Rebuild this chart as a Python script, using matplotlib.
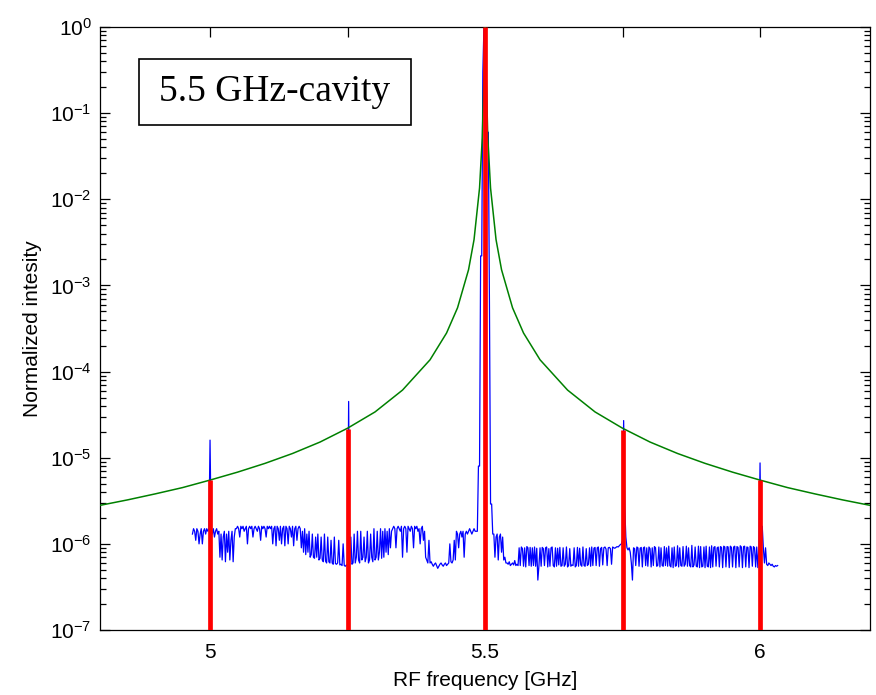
import numpy as np
import matplotlib
matplotlib.use('Agg')
import matplotlib.pyplot as plt
from matplotlib.patches import Rectangle
from matplotlib.ticker import LogLocator, NullFormatter, FixedLocator, FixedFormatter

plt.rcParams['font.family'] = ['Liberation Sans', 'DejaVu Sans']
plt.rcParams['mathtext.fontset'] = 'custom'
plt.rcParams['mathtext.rm'] = 'Liberation Sans'
plt.rcParams['mathtext.it'] = 'Liberation Sans:italic'

# cavity transmission (green)
green_freq = [4.80, 4.85, 4.90, 4.95, 5.00, 5.05, 5.10, 5.15, 5.20, 5.25, 5.30, 5.35,
              5.40, 5.43, 5.45, 5.47, 5.48, 5.49, 5.495, 5.4985, 5.50, 5.5015, 5.505,
              5.51, 5.52, 5.53, 5.55, 5.57, 5.60, 5.65, 5.70, 5.75, 5.80, 5.85, 5.90,
              5.95, 6.00, 6.05, 6.10, 6.15, 6.20]
green_vals = [2.8e-6, 3.24e-6, 3.8e-6, 4.5e-6, 5.5e-6, 6.8e-6, 8.6e-6, 1.12e-5, 1.52e-5,
              2.2e-5, 3.4e-5, 6.1e-5, 1.37e-4, 2.8e-4, 5.5e-4, 1.52e-3, 3.4e-3, 1.35e-2,
              5.2e-2, 0.38, 1.0, 0.38, 5.2e-2, 1.35e-2, 3.4e-3, 1.52e-3, 5.5e-4, 2.8e-4,
              1.37e-4, 6.1e-5, 3.4e-5, 2.2e-5, 1.52e-5, 1.12e-5, 8.6e-6, 6.8e-6, 5.5e-6,
              4.5e-6, 3.8e-6, 3.24e-6, 2.8e-6]

# comb lines (red)
red_freq = [5.0, 5.25, 5.5, 5.75, 6.0]
red_vals = [5.5e-6, 2.15e-5, 1.0, 2.1e-5, 5.5e-6]

# measured spectrum (blue), sampled every 2 MHz from 4.968 GHz, values in units of 1e-7
blue_f0 = 4.968
blue_df = 0.002
blue_vals = [
    # 4.968 - 4.998
    13, 15, 14, 11, 15, 14, 10, 13, 15, 10, 14, 15, 13, 15, 14, 15,
    # 5.000 spike
    160,
    15, 13, 15, 12, 14, 15, 13,
    14, 7, 13, 6.5, 12, 14, 6.2, 13, 8, 14, 6.5, 11, 14, 6.2, 12, 15,
    # 5.048 - 5.110
    15, 16, 15, 12, 16, 15, 16, 14, 15, 16, 10, 15, 16, 15, 16, 12,
    15, 16, 15, 14, 16, 15, 11, 16, 15, 16, 15, 12, 16, 15, 16, 15,
    # 5.112 - 5.162
    16, 10, 15, 16, 9.5, 16, 15, 11, 16, 10, 15, 16, 9.5, 16, 15, 10,
    16, 15, 12, 16, 9.5, 15, 16, 11, 15, 16,
    # 5.164 - 5.250
    15, 9, 14, 8, 15, 7.5, 13, 8, 14, 7,
    7.5, 13, 7, 6.8, 12, 7, 13, 6.5, 6.8, 12,
    6.5, 6.2, 13, 6.3, 6, 12, 6.2, 6, 11, 6,
    5.8, 12, 5.9, 5.8, 6, 11, 5.7, 5.8, 5.6, 10,
    5.6, 5.5, 5.7, 5.5,
    # 5.252 spike
    450,
    # 5.254 - 5.330
    6, 12, 5.8, 6, 13, 6, 7, 14, 6.5, 6,
    14, 6.5, 7, 12, 6.2, 7, 14, 6, 6.5, 13,
    7, 6.2, 15, 6.5, 7, 14, 6.5, 8, 15, 6.8,
    14, 7, 15, 8, 14, 7.5, 15, 9, 14,
    # 5.332 - 5.390
    15, 16, 15, 9, 15, 16, 15, 14, 16, 7,
    15, 16, 15, 8, 16, 15, 14, 16, 15, 9,
    16, 15, 16, 14, 15, 10, 15, 16, 11, 14,
    # 5.392 - 5.446
    7, 6.5, 6, 11, 6, 6.2, 5.8, 5.5, 5.8, 6,
    5.6, 5.2, 5.5, 5.8, 6, 5.7, 5.5, 5.8, 6, 5.6,
    5.8, 6, 10, 6.2, 6, 6.5, 11, 6.5,
    # 5.448 - 5.482
    14, 13, 9, 13, 14, 12, 14, 7, 13, 14, 13, 14, 15, 14, 13, 14, 15, 14,
    # 5.484 - 5.514 main peak
    14, 14, 80, 80, 22000, 22000, 3e6, 1e7, 1e7, 3e6, 6e5, 6e5, 6300, 29, 29, 13,
    # 5.516 - 5.560
    13, 7, 12, 13, 6.5, 12, 13, 8, 12, 6.5, 7, 6,
    6, 5.8, 6.2, 5.6, 5.8, 6, 5.7, 6.4, 5.6, 5.8, 5.6,
    # 5.562 - 5.750
    9, 5.6, 9.2, 8.8, 5.5, 9, 5.4, 9.3, 9, 5.6,
    9.1, 5.5, 9, 5.6, 9.2, 5.5, 8.9, 3.8, 5.6, 9,
    5.5, 9.1, 8.8, 5.6, 9, 9.2, 5.4, 8.8, 5.5, 9,
    9.2, 5.6, 5.4, 9, 5.5, 8.9, 5.7, 9.1, 5.5, 5.6,
    9, 5.5, 5.8, 9.2, 5.4, 5.6, 8.8, 5.5, 5.7, 5.6,
    9, 5.4, 5.6, 9.1, 5.5, 8.9, 5.7, 5.5, 9.2, 5.6,
    5.5, 8.8, 5.6, 5.8, 9, 5.5, 9.2, 5.6, 8.9, 9.1,
    5.6, 9, 9.2, 5.5, 8.8, 9.1, 5.7, 9, 9.2, 8.7,
    5.6, 9, 9.1, 8.8, 5.8, 9.2, 9, 8.9, 9.1, 9.3,
    9.2, 9.5, 9.8, 10, 11,
    # 5.752 spike
    270,
    27, 12, 9, 8.5, 9, 8, 6, 3.8,
    # 5.770 - 5.998
    9, 8.8, 5.6, 9.2, 9, 5.5, 8.9, 9.1, 5.4, 9,
    9.2, 5.6, 9, 5.5, 9.2, 8.8, 5.4, 9, 5.6, 9.3,
    9, 5.5, 5.6, 9.2, 5.4, 9, 5.6, 5.5, 9.3, 5.6,
    9, 5.5, 9.4, 5.6, 5.4, 9, 5.3, 9.2, 5.5, 5.6,
    9.5, 5.4, 9, 5.6, 5.5, 9.3, 5.5, 5.8, 9.4, 5.5,
    9, 5.6, 5.4, 9.6, 5.4, 5.7, 9.2, 5.5, 5.4, 9.4,
    5.3, 9.3, 5.4, 5.5, 9.2, 5.3, 9.4, 5.5, 5.4, 9.2,
    5.3, 9.5, 5.4, 9.1, 9.3, 5.5, 9, 9.2, 5.4, 9.3,
    9.1, 5.3, 9.4, 9.2, 5.4, 9.3, 9.2, 5.3, 9.4, 9.1,
    5.4, 9.2, 9.4, 5.3, 9.3, 9.1, 5.4, 9.5, 9.2, 5.3,
    9.3, 9.4, 5.4, 9.2, 9.1, 5.3, 9.4, 9.2, 5.5, 9.3,
    9, 5.4, 9.2, 5.3, 9.1,
    # 6.000 spike
    87,
    8, 16, 9, 6, 9, 5.8, 5.6, 6, 5.8, 5.6, 5.8, 5.5, 5.4, 5.6, 5.5, 5.6,
]

xtick_pos = [5.0, 5.25, 5.5, 5.75, 6.0]
xtick_lab = ['5', '', '5.5', '', '6']

blue_freq = blue_f0 + blue_df * np.arange(len(blue_vals))
blue_y = np.array(blue_vals) * 1e-7

fig = plt.figure(figsize=(8.76, 6.95), dpi=100)
ax = fig.add_axes([0.1142, 0.0935, 0.879, 0.8677])

ax.plot(blue_freq, blue_y, color='#0000ff', lw=0.9, zorder=2)
ax.plot(green_freq, green_vals, color='#008000', lw=1.1, zorder=3)
ax.vlines(red_freq, 1e-7, red_vals, color='#ff0000', lw=3.4, zorder=4)

ax.set_yscale('log')
ax.set_xlim(4.8, 6.2)
ax.set_ylim(1e-7, 1e0)

ax.xaxis.set_major_locator(FixedLocator(xtick_pos))
ax.xaxis.set_major_formatter(FixedFormatter(xtick_lab))
ax.yaxis.set_major_locator(LogLocator(base=10, numticks=20))
ax.yaxis.set_minor_locator(LogLocator(base=10, subs=np.arange(2, 10), numticks=100))
ax.yaxis.set_minor_formatter(NullFormatter())

ax.tick_params(which='both', direction='in', top=True, right=True, labelsize=15, width=0.9)
ax.tick_params(which='major', length=7)
ax.tick_params(which='minor', length=4)
ax.tick_params(axis='x', pad=9)
ax.tick_params(axis='y', pad=6)
for s in ax.spines.values():
    s.set_linewidth(0.9)

ax.set_xlabel('RF frequency [GHz]', fontsize=15, labelpad=7)
ax.set_ylabel('Normalized intesity', fontsize=15, labelpad=6)

ax.add_patch(Rectangle((0.0506, 0.8375), 0.3532, 0.1095, transform=ax.transAxes,
                       fill=True, facecolor='white', edgecolor='black', lw=1.2, zorder=5))
ax.text(0.227, 0.892, '5.5 GHz-cavity', transform=ax.transAxes, ha='center', va='center',
        fontsize=27, family='Liberation Serif', zorder=6)

fig.savefig('out.png', dpi=100)
